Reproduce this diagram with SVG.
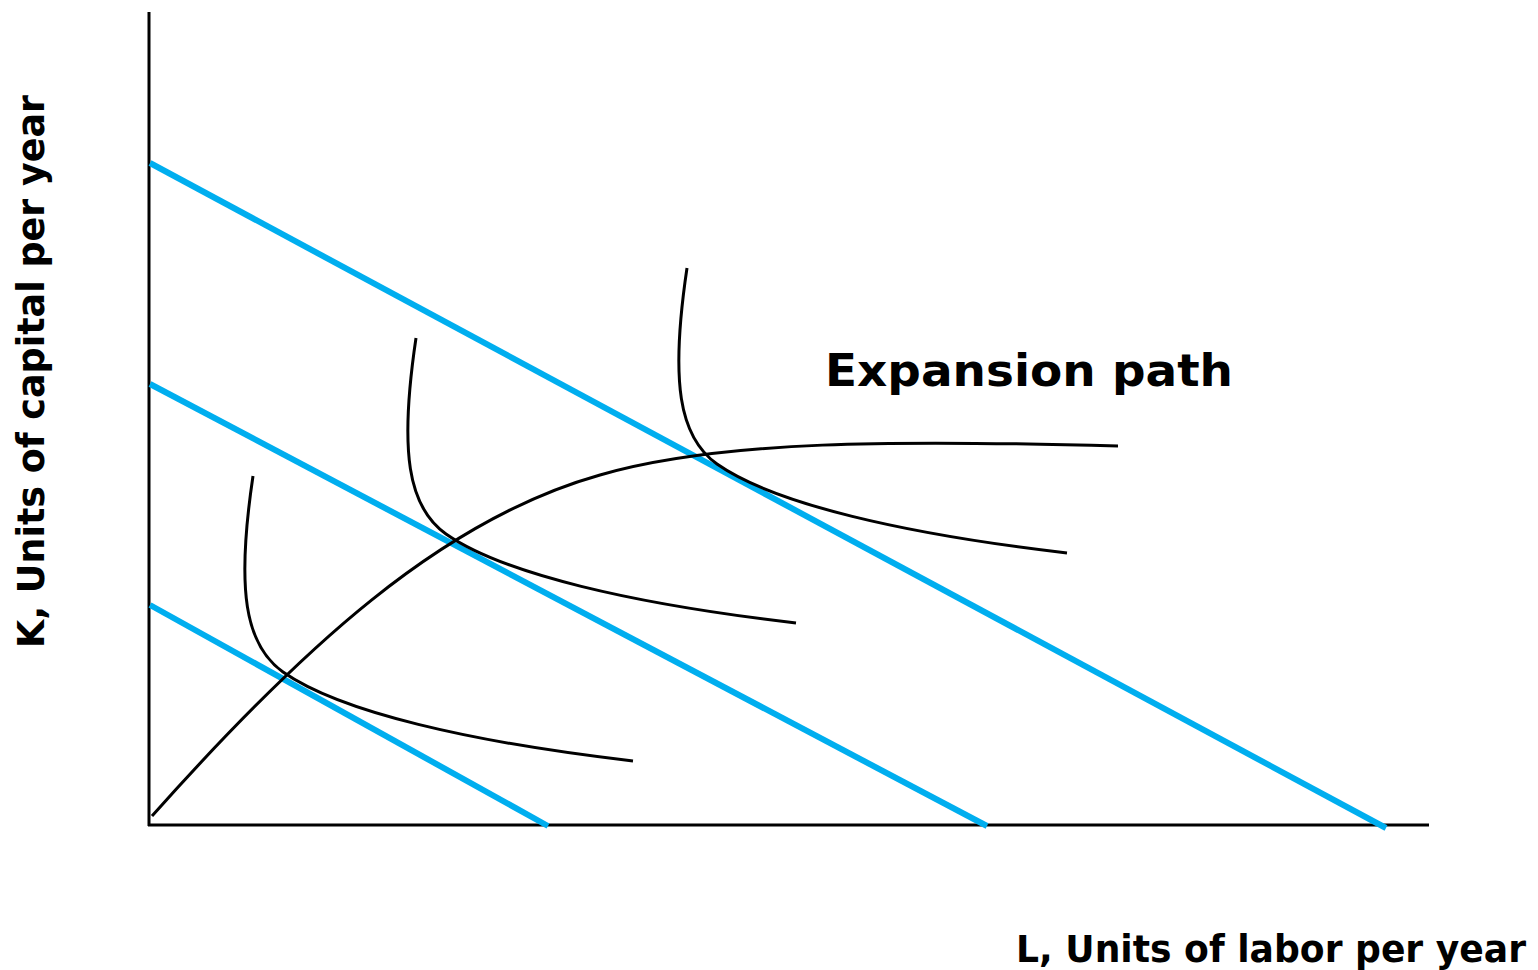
<svg xmlns="http://www.w3.org/2000/svg" xmlns:xlink="http://www.w3.org/1999/xlink" width="1538" height="970" viewBox="0 0 1538 970">
<style>
.axis{stroke:#000;stroke-width:3;fill:none}
.iso{stroke:#00AEEF;stroke-width:6;fill:none;stroke-linecap:butt}
.q{stroke:#000;stroke-width:3;fill:none}
.exp{stroke:#000;stroke-width:3;fill:none}
.lbl{font-family:"DejaVu Sans","Verdana",sans-serif;font-weight:bold;fill:#000}
</style>
<defs>
<path id="isoquant" d="M253,476 C236,590 245,645 283,672 C340,712 470,742 633,761"/>
</defs>
<rect width="1538" height="970" fill="#fff"/>
<g id="axes">
<line class="axis" x1="149" y1="12" x2="149" y2="826"/>
<line class="axis" x1="148" y1="825" x2="1429" y2="825"/>
</g>
<g id="isocost-lines">
<line class="iso" x1="150" y1="163" x2="1386" y2="828"/>
<line class="iso" x1="150" y1="384" x2="987" y2="826"/>
<line class="iso" x1="150" y1="605" x2="548" y2="826"/>
</g>
<g id="isoquants">
<use class="q" xlink:href="#isoquant" href="#isoquant"/>
<use class="q" xlink:href="#isoquant" href="#isoquant" transform="translate(163,-138)"/>
<use class="q" xlink:href="#isoquant" href="#isoquant" transform="translate(434,-208)"/>
</g>
<g id="expansion-path">
<path class="exp" d="M152,816 C300,650 440,520 600,475 C720,440 900,440 1118,446"/>
</g>
<g id="labels">
<text class="lbl" x="825" y="386" font-size="45" textLength="408" lengthAdjust="spacingAndGlyphs">Expansion path</text>
<text class="lbl" x="1016" y="962" font-size="37" textLength="510" lengthAdjust="spacingAndGlyphs">L, Units of labor per year</text>
<text class="lbl" font-size="37" textLength="553" lengthAdjust="spacingAndGlyphs" transform="translate(44,648) rotate(-90)">K, Units of capital per year</text>
</g>
</svg>
